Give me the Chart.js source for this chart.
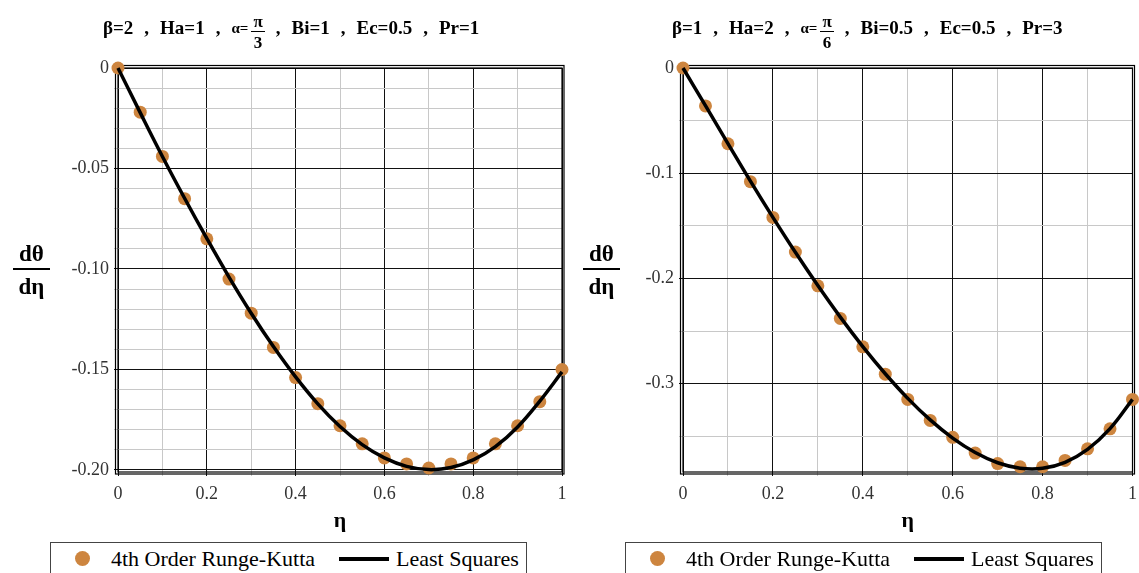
<!DOCTYPE html>
<html>
<head>
<meta charset="utf-8">
<script src="https://cdn.jsdelivr.net/npm/chart.js@4"></script>
<style>
  html, body { margin: 0; padding: 0; background: #fff; }
  #wrap { position: relative; width: 1139px; height: 573px; overflow: hidden; font-family: "Liberation Serif", "DejaVu Serif", serif; color: #000; }
  canvas { position: absolute; top: 0; }
  .title { position: absolute; top: 8px; height: 40px; font-weight: bold; font-size: 19px; white-space: nowrap; display: flex; align-items: center; gap: 11px; }
  .title .greek { font-size: 15px; margin-right: -8px; }
  .frac { display: inline-flex; flex-direction: column; align-items: center; line-height: 1; }
  .title .frac { font-size: 17px; transform: translateY(4px); }
  .title .frac .num { border-bottom: 1.5px solid #000; padding: 0 2px 1px; }
  .title .frac .den { padding-top: 2px; }
  .ytitle { position: absolute; top: 242px; font-weight: bold; font-size: 23px; }
  .ytitle .num { border-bottom: 2px solid #000; padding: 0 6px 3px; }
  .ytitle .den { padding-top: 5px; }
  .legend { position: absolute; top: 542px; width: 475px; height: 40px; border: 1px solid #444; background: #fff; font-size: 22px; }
  .legend span { position: absolute; top: 3px; white-space: nowrap; }
  .legend .dot { position: absolute; top: 8px; left: 24px; width: 15px; height: 15px; border-radius: 50%; background: rgb(205,133,63); }
  .legend .bar { position: absolute; top: 14px; left: 288px; width: 50px; height: 4px; background: #000; }
  .legend .t1 { left: 60px; }
  .legend .t2 { left: 345px; }
</style>
</head>
<body>
<div id="wrap">
  <canvas id="leftChart" width="570" height="573" style="left:0;width:570px;height:573px"></canvas>
  <canvas id="rightChart" width="569" height="573" style="left:570px;width:569px;height:573px"></canvas>

  <div class="title" style="left:103px">
    <span>β=2</span><span>,</span><span>Ha=1</span><span>,</span>
    <span class="greek">α=</span><span class="frac"><span class="num">π</span><span class="den">3</span></span>
    <span>,</span><span>Bi=1</span><span>,</span><span>Ec=0.5</span><span>,</span><span>Pr=1</span>
  </div>
  <div class="title" style="left:672px">
    <span>β=1</span><span>,</span><span>Ha=2</span><span>,</span>
    <span class="greek">α=</span><span class="frac"><span class="num">π</span><span class="den">6</span></span>
    <span>,</span><span>Bi=0.5</span><span>,</span><span>Ec=0.5</span><span>,</span><span>Pr=3</span>
  </div>

  <div class="ytitle frac" style="left:13px"><span class="num">dθ</span><span class="den">dη</span></div>
  <div class="ytitle frac" style="left:583px"><span class="num">dθ</span><span class="den">dη</span></div>

  <div class="legend" style="left:50px">
    <div class="dot"></div><span class="t1">4th Order Runge-Kutta</span>
    <div class="bar"></div><span class="t2">Least Squares</span>
  </div>
  <div class="legend" style="left:625px">
    <div class="dot"></div><span class="t1">4th Order Runge-Kutta</span>
    <div class="bar"></div><span class="t2">Least Squares</span>
  </div>
</div>

<script>
// eta values shared by both panels
const eta = [0, 0.05, 0.1, 0.15, 0.2, 0.25, 0.3, 0.35, 0.4, 0.45, 0.5,
             0.55, 0.6, 0.65, 0.7, 0.75, 0.8, 0.85, 0.9, 0.95, 1];

// left panel: beta=2, Ha=1, alpha=pi/3
const rkLeft = [0, -0.022, -0.044, -0.065, -0.085, -0.105, -0.122, -0.139, -0.154, -0.167, -0.178,
                -0.187, -0.194, -0.197, -0.199, -0.197, -0.194, -0.187, -0.178, -0.166, -0.150];
const lsLeft = [0, -0.0222, -0.0440, -0.0648, -0.0848, -0.1040, -0.1220, -0.1386, -0.1537, -0.1671, -0.1784,
                -0.1874, -0.1940, -0.1982, -0.1998, -0.1988, -0.1950, -0.1884, -0.1786, -0.1657, -0.1512];

// right panel: beta=1, Ha=2, alpha=pi/6
const rkRight = [0, -0.036, -0.072, -0.108, -0.142, -0.175, -0.207, -0.238, -0.265, -0.291, -0.315,
                 -0.335, -0.351, -0.366, -0.376, -0.379, -0.379, -0.373, -0.362, -0.343, -0.315];
const lsRight = [0, -0.0358, -0.0718, -0.1075, -0.1420, -0.1752, -0.2068, -0.2368, -0.2648, -0.2906, -0.3140,
                 -0.3345, -0.3518, -0.3655, -0.3752, -0.3804, -0.3805, -0.3748, -0.3625, -0.3428, -0.3150];

// tick labels
const xTickValues = [0, 0.2, 0.4, 0.6, 0.8, 1];
const xTickLabels = ['0', '0.2', '0.4', '0.6', '0.8', '1'];
const leftYTickValues = [0, -0.05, -0.1, -0.15, -0.2];
const leftYTickLabels = ['0', '-0.05', '-0.10', '-0.15', '-0.20'];
const rightYTickValues = [0, -0.1, -0.2, -0.3];
const rightYTickLabels = ['0', '-0.1', '-0.2', '-0.3'];

const DOT = 'rgb(205,133,63)';
const MAJOR = '#111';
const MINOR = '#c8c8c8';
const FONT = "'Liberation Serif', 'DejaVu Serif', serif";

const labelFor = (vals, labels, v) => {
    const i = vals.findIndex(t => Math.abs(t - v) < 1e-9);
    return i >= 0 ? labels[i] : '';
};
const isMajor = (vals, v) => vals.some(t => Math.abs(t - v) < 1e-9);

// double frame around the plot box
const framePlugin = {
    id: 'frame',
    beforeDatasetsDraw(chart) {
        const { ctx, chartArea: a } = chart;
        ctx.save();
        ctx.strokeStyle = '#000';
        ctx.lineWidth = 1.2;
        ctx.strokeRect(a.left, a.top, a.right - a.left, a.bottom - a.top);
        ctx.strokeRect(a.left - 2.5, a.top - 2.5, a.right - a.left + 4.5, a.bottom - a.top + 4.5);
        ctx.restore();
    }
};

function makeChart(id, rk, ls, opt) {
    const canvas = document.getElementById(id);
    const W = canvas.width;
    return new Chart(canvas, {
        type: 'scatter',
        data: {
            datasets: [
                {
                    label: 'Least Squares',
                    data: eta.map((x, i) => ({ x, y: ls[i] })),
                    showLine: true,
                    borderColor: '#000',
                    borderWidth: 3.5,
                    pointRadius: 0,
                    tension: 0.4,
                    clip: false
                },
                {
                    label: '4th Order Runge-Kutta',
                    data: eta.map((x, i) => ({ x, y: rk[i] })),
                    backgroundColor: DOT,
                    borderColor: DOT,
                    borderWidth: 0,
                    pointRadius: 6.5,
                    clip: false
                }
            ]
        },
        options: {
            responsive: false,
            animation: false,
            events: [],
            layout: { padding: { left: 0, top: 68, right: W - opt.plotRight, bottom: 38 } },
            plugins: { legend: { display: false }, tooltip: { enabled: false } },
            scales: {
                x: {
                    type: 'linear',
                    min: 0, max: 1,
                    afterFit: s => { s.height = 63; s.paddingLeft = 0; s.paddingRight = 0; },
                    border: { display: false },
                    grid: {
                        color: c => isMajor(xTickValues, c.tick.value) ? MAJOR : MINOR,
                        lineWidth: 1,
                        tickLength: 4
                    },
                    ticks: {
                        stepSize: 0.1,
                        autoSkip: false,
                        maxRotation: 0,
                        padding: 7,
                        color: '#333',
                        font: { family: FONT, size: 18 },
                        callback: v => labelFor(xTickValues, xTickLabels, v)
                    },
                    title: {
                        display: true,
                        text: 'η',
                        color: '#000',
                        font: { family: FONT, size: 22, weight: 'bold' },
                        padding: { top: 1, bottom: 0 }
                    }
                },
                y: {
                    type: 'linear',
                    min: opt.yMin, max: 0,
                    afterFit: s => { s.width = opt.plotLeft; s.paddingTop = 0; s.paddingBottom = 0; },
                    border: { display: false },
                    grid: {
                        color: c => isMajor(opt.yVals, c.tick.value) ? MAJOR : MINOR,
                        lineWidth: 1,
                        tickLength: 4
                    },
                    ticks: {
                        stepSize: opt.yStep,
                        includeBounds: false,
                        autoSkip: false,
                        padding: 5,
                        color: '#333',
                        font: { family: FONT, size: 18 },
                        callback: v => labelFor(opt.yVals, opt.yLabels, v)
                    }
                }
            }
        },
        plugins: [framePlugin]
    });
}

makeChart('leftChart', rkLeft, lsLeft, {
    plotLeft: 118, plotRight: 562, yMin: -0.201, yStep: 0.01,
    yVals: leftYTickValues, yLabels: leftYTickLabels
});
makeChart('rightChart', rkRight, lsRight, {
    plotLeft: 113, plotRight: 567, yMin: -0.384, yStep: 0.05,
    yVals: rightYTickValues, yLabels: rightYTickLabels
});
</script>
</body>
</html>
